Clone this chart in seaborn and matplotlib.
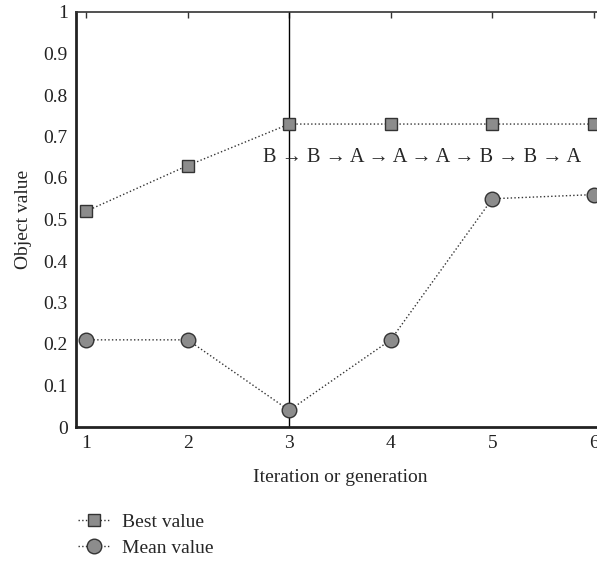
import matplotlib
matplotlib.use("Agg")
import matplotlib.pyplot as plt
import numpy as np
import pandas as pd
import seaborn as sns

iterations = [1, 2, 3, 4, 5, 6]
best_value = [0.52, 0.63, 0.73, 0.73, 0.73, 0.73]
mean_value = [0.21, 0.21, 0.04, 0.21, 0.55, 0.56]
sequence_text = "B \u2192 B \u2192 A \u2192 A \u2192 A \u2192 B \u2192 B \u2192 A"

sns.set_style("white")
plt.rcParams['font.family'] = ['Liberation Serif', 'DejaVu Serif']
plt.rcParams['font.size'] = 14

df = pd.DataFrame({'Iteration': iterations, 'Best': best_value, 'Mean': mean_value})

fig = plt.figure(figsize=(5.97, 5.63), dpi=100)
ax = fig.add_axes([76 / 597, (563 - 427) / 563, 528 / 597, 415 / 563])

ax.axvline(3, color='black', lw=1.0, zorder=1)

sns.lineplot(data=df, x='Iteration', y='Best', ax=ax, color='#333333', lw=1.0,
             linestyle=':', marker='s', markersize=8, markerfacecolor='#8c8c8c',
             markeredgecolor='#333333', markeredgewidth=1.0, label='Best value', zorder=3)
sns.lineplot(data=df, x='Iteration', y='Mean', ax=ax, color='#333333', lw=1.0,
             linestyle=':', marker='o', markersize=10.5, markerfacecolor='#8c8c8c',
             markeredgecolor='#333333', markeredgewidth=1.0, label='Mean value', zorder=3)

ax.text(4.31, 0.65, sequence_text, ha='center', va='center', fontsize=14.6)

ax.set_xlim(0.9, 6.1)
ax.set_ylim(0, 1)
ax.set_xticks(iterations)
ax.set_yticks(np.round(np.arange(0, 1.01, 0.1), 1))
ax.set_yticklabels(['0'] + [f'{v:.1f}' for v in np.arange(0.1, 0.95, 0.1)] + ['1'])
ax.set_xlabel('Iteration or generation', labelpad=12)
ax.set_ylabel('Object value', labelpad=8)

for side in ['left', 'bottom']:
    ax.spines[side].set_linewidth(2.0)
    ax.spines[side].set_color('#222222')
ax.spines['top'].set_linewidth(1.2)
ax.spines['top'].set_color('#333333')
ax.spines['right'].set_visible(False)
ax.tick_params(axis='both', direction='in', length=4, width=1, colors='#333333',
               labelcolor='#222222', pad=6)
ax.tick_params(axis='x', top=True)

ax.legend(loc='upper left', bbox_to_anchor=(-0.03, -0.165), frameon=False,
          handlelength=1.7, handletextpad=0.6, labelspacing=0.45, fontsize=14)

fig.savefig('out.png', dpi=100)
